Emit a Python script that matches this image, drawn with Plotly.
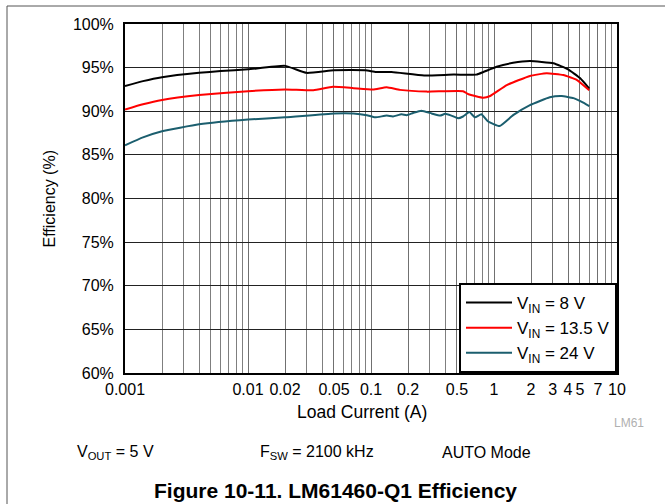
import plotly.graph_objects as go

# ---- data ----
i_8v = [0.001, 0.0014, 0.002, 0.004, 0.006, 0.01, 0.02, 0.03, 0.05, 0.09, 0.11, 0.147,
        0.27, 0.47, 0.72, 0.82, 1.05, 1.43, 1.96, 3.04, 4.0, 5.0, 5.95]
eff_8v = [92.9, 93.45, 93.9, 94.4, 94.6, 94.8, 95.2, 94.4, 94.7, 94.7, 94.5, 94.5,
          94.1, 94.2, 94.2, 94.5, 95.1, 95.55, 95.75, 95.5, 94.8, 93.8, 92.6]

i_13v5 = [0.001, 0.0014, 0.002, 0.004, 0.01, 0.02, 0.034, 0.049, 0.072, 0.104, 0.134, 0.172,
          0.284, 0.56, 0.62, 0.82, 0.93, 1.27, 1.96, 2.68, 3.66, 4.7, 5.95]
eff_13v5 = [90.2, 90.8, 91.3, 91.85, 92.3, 92.5, 92.4, 92.8, 92.65, 92.5, 92.75, 92.45,
            92.25, 92.3, 91.95, 91.55, 91.75, 93.0, 94.05, 94.35, 94.15, 93.6, 92.4]

i_24v = [0.001, 0.0014, 0.002, 0.004, 0.01, 0.02, 0.05, 0.072, 0.0925, 0.108, 0.134, 0.151,
         0.177, 0.195, 0.22, 0.257, 0.311, 0.365, 0.40, 0.45, 0.51, 0.56, 0.63, 0.70,
         0.79, 0.89, 1.11, 1.43, 1.96, 2.84, 3.55, 4.43, 5.13, 5.95]
eff_24v = [86.1, 87.0, 87.7, 88.5, 89.05, 89.3, 89.75, 89.75, 89.55, 89.3, 89.5, 89.4,
           89.65, 89.55, 89.8, 90.05, 89.75, 89.5, 89.7, 89.5, 89.2, 89.4, 89.9, 89.3,
           89.65, 88.85, 88.3, 89.55, 90.7, 91.6, 91.75, 91.5, 91.1, 90.6]

series_names = ["V<sub>IN</sub> = 8 V", "V<sub>IN</sub> = 13.5 V", "V<sub>IN</sub> = 24 V"]
series_colors = ["#000000", "#ff0000", "#1b5e6e"]

x_tick_vals = [0.001, 0.01, 0.02, 0.05, 0.1, 0.2, 0.5, 1, 2, 3, 4, 5, 7, 10]
x_tick_text = ["0.001", "0.01", "0.02", "0.05", "0.1", "0.2", "0.5", "1", "2", "3", "4", "5", "7", "10"]
x_minor_vals = [m * d for d in (0.001, 0.01, 0.1, 1) for m in range(2, 10)
                if round(m * d, 6) not in [round(v, 6) for v in x_tick_vals]]
y_tick_vals = [60, 65, 70, 75, 80, 85, 90, 95, 100]

FONT = "Arial, 'Liberation Sans', Helvetica, sans-serif"

fig = go.Figure()
for xs, ys, name, col in zip([i_8v, i_13v5, i_24v], [eff_8v, eff_13v5, eff_24v],
                             series_names, series_colors):
    fig.add_trace(go.Scatter(x=xs, y=ys, mode="lines", name=name,
                             line=dict(color=col, width=2, shape="spline", smoothing=0.4)))

fig.update_layout(
    width=665, height=504,
    margin=dict(l=125, r=48, t=24, b=131),
    paper_bgcolor="white", plot_bgcolor="white",
    font=dict(family=FONT, size=16, color="#000"),
    showlegend=True,
    legend=dict(x=1, y=0, xanchor="right", yanchor="bottom",
                bgcolor="white", bordercolor="#000", borderwidth=2,
                font=dict(size=17, family=FONT), tracegroupgap=0,
                itemwidth=46),
)

fig.update_xaxes(
    type="log", range=[-3, 1],
    tickmode="array", tickvals=x_tick_vals, ticktext=x_tick_text,
    showgrid=True, gridcolor="#707070", gridwidth=1,
    minor=dict(tickmode="array", tickvals=x_minor_vals, showgrid=True,
               gridcolor="#7f7f7f", gridwidth=1, ticks=""),
    showline=True, linecolor="#000", linewidth=2, mirror=True,
    ticks="", ticklabelstandoff=1, zeroline=False,
    tickfont=dict(size=16),
)
fig.update_yaxes(
    range=[60, 100], tickmode="array", tickvals=y_tick_vals,
    ticktext=[f"{v}%" for v in y_tick_vals],
    showgrid=True, gridcolor="#222", gridwidth=1,
    showline=True, linecolor="#000", linewidth=2, mirror=True,
    ticks="", ticklabelstandoff=6, zeroline=False,
    tickfont=dict(size=16),
)

# figure border (partly off-page, as in the reference)
fig.add_shape(type="rect", xref="paper", yref="paper",
              x0=(7 - 125) / 492, x1=1.2, y0=-0.5, y1=(373 - 6) / 349,
              line=dict(color="#555", width=1), fillcolor="rgba(0,0,0,0)", layer="below")

def py(ypx):
    return (373 - ypx) / 349

def px(xpx):
    return (xpx - 125) / 492

anns = [
    dict(text="Efficiency (%)", x=px(49), y=0.5, textangle=-90, font=dict(size=16),
         xanchor="center", yanchor="middle"),
    dict(text="Load Current (A)", x=px(362), y=py(412), font=dict(size=17.5),
         xanchor="center", yanchor="middle"),
    dict(text="LM61", x=px(612), y=py(423), font=dict(size=12, color="#b0b0b0"),
         xanchor="left", yanchor="middle"),
    dict(text="V<sub>OUT</sub> = 5 V", x=px(75), y=py(452), font=dict(size=16),
         xanchor="left", yanchor="middle"),
    dict(text="F<sub>SW</sub> = 2100 kHz", x=px(258), y=py(452), font=dict(size=16),
         xanchor="left", yanchor="middle"),
    dict(text="AUTO Mode", x=px(440), y=py(452), font=dict(size=16),
         xanchor="left", yanchor="middle"),
    dict(text="<b>Figure 10-11. LM61460-Q1 Efficiency</b>", x=px(335), y=py(490),
         font=dict(size=21), xanchor="center", yanchor="middle"),
]
for a in anns:
    fig.add_annotation(xref="paper", yref="paper", showarrow=False, **a)

fig.write_html("out.html", config={"displayModeBar": False},
               post_script="document.body.style.margin='0';document.body.style.overflow='hidden';")
